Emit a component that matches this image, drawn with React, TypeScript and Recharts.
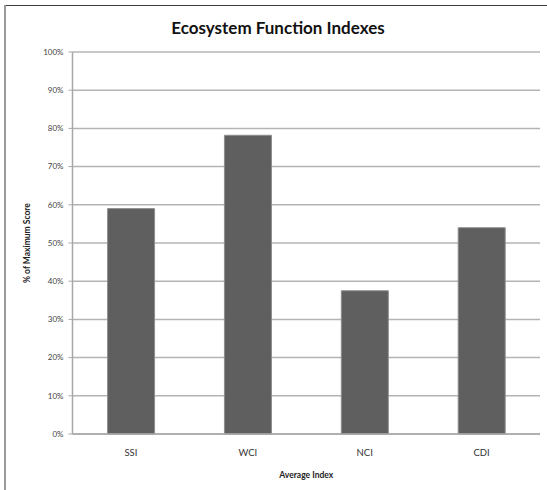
import React from 'react'
import { BarChart, Bar, XAxis, YAxis, CartesianGrid, Label } from 'recharts'

const categories = ['SSI', 'WCI', 'NCI', 'CDI']
const scores = [59, 78.2, 37.5, 54]
const yTicks = [0, 10, 20, 30, 40, 50, 60, 70, 80, 90, 100]
const boundaryTicks = [0, 1, 2, 3, 4]

const FONT = 'Lato, "Open Sans", sans-serif'

const data = categories.map((name, i) => ({ name, score: scores[i] }))

function YTitle({ viewBox }: any) {
  const x = viewBox.x + 27
  const y = viewBox.y + viewBox.height / 2
  return (
    <text
      x={x}
      y={y}
      transform={`rotate(-90, ${x}, ${y})`}
      textAnchor="middle"
      dominantBaseline="central"
      fontFamily={FONT}
      fontSize={8.5}
      fontWeight={700}
      fill="#222"
    >
      % of Maximum Score
    </text>
  )
}

export default function App() {
  return (
    <div style={{ position: 'absolute', left: 0, top: 0, width: 547, height: 490, background: '#fff' }}>
      {/* chart frame */}
      <div style={{ position: 'absolute', left: 5, top: 5, width: 542, height: 0, borderTop: '1.5px solid #3c3c3c' }} />
      <div style={{ position: 'absolute', left: 4, top: 5, width: 0, height: 485, borderLeft: '2px solid #9a9a9a' }} />
      <div
        style={{
          position: 'absolute',
          left: 0,
          width: 556,
          top: 17,
          textAlign: 'center',
          fontFamily: FONT,
          fontWeight: 700,
          fontSize: 17,
          color: '#111',
        }}
      >
        Ecosystem Function Indexes
      </div>
      <BarChart
        width={547}
        height={490}
        data={data}
        margin={{ top: 52, right: 7, bottom: 0, left: 0 }}
        barCategoryGap="30%"
      >
        <CartesianGrid horizontal vertical={false} stroke="#b4b4b4" strokeWidth={1.5} />
        <XAxis
          xAxisId="edges"
          type="number"
          domain={[0, 4]}
          ticks={boundaryTicks}
          height={0}
          axisLine={false}
          tickLine={{ stroke: '#a0a0a0' }}
          tickSize={3}
          tickFormatter={() => ''}
        />
        <XAxis
          xAxisId="cat"
          dataKey="name"
          height={56}
          axisLine={{ stroke: '#a8a8a8', strokeWidth: 1.5 }}
          tickLine={false}
          tickSize={0}
          tickMargin={15}
          tick={{ fontFamily: FONT, fontSize: 9.5, fill: '#333' }}
        >
          <Label
            value="Average Index"
            position="insideBottom"
            offset={12}
            style={{ fontFamily: FONT, fontSize: 8.5, fontWeight: 700, fill: '#222' }}
          />
        </XAxis>
        <YAxis
          width={72.5}
          domain={[0, 100]}
          ticks={yTicks}
          interval={0}
          tickFormatter={(v: number) => `${v}%`}
          axisLine={{ stroke: '#a8a8a8', strokeWidth: 1.5 }}
          tickLine={{ stroke: '#a8a8a8' }}
          tickSize={4}
          tickMargin={5}
          tick={{ fontFamily: FONT, fontSize: 8, fill: '#444' }}
        >
          <Label content={YTitle} />
        </YAxis>
        <Bar
          xAxisId="cat"
          dataKey="score"
          fill="#5f5f5f"
          stroke="#8e8e8e"
          strokeWidth={1}
          isAnimationActive={false}
        />
      </BarChart>
    </div>
  )
}
